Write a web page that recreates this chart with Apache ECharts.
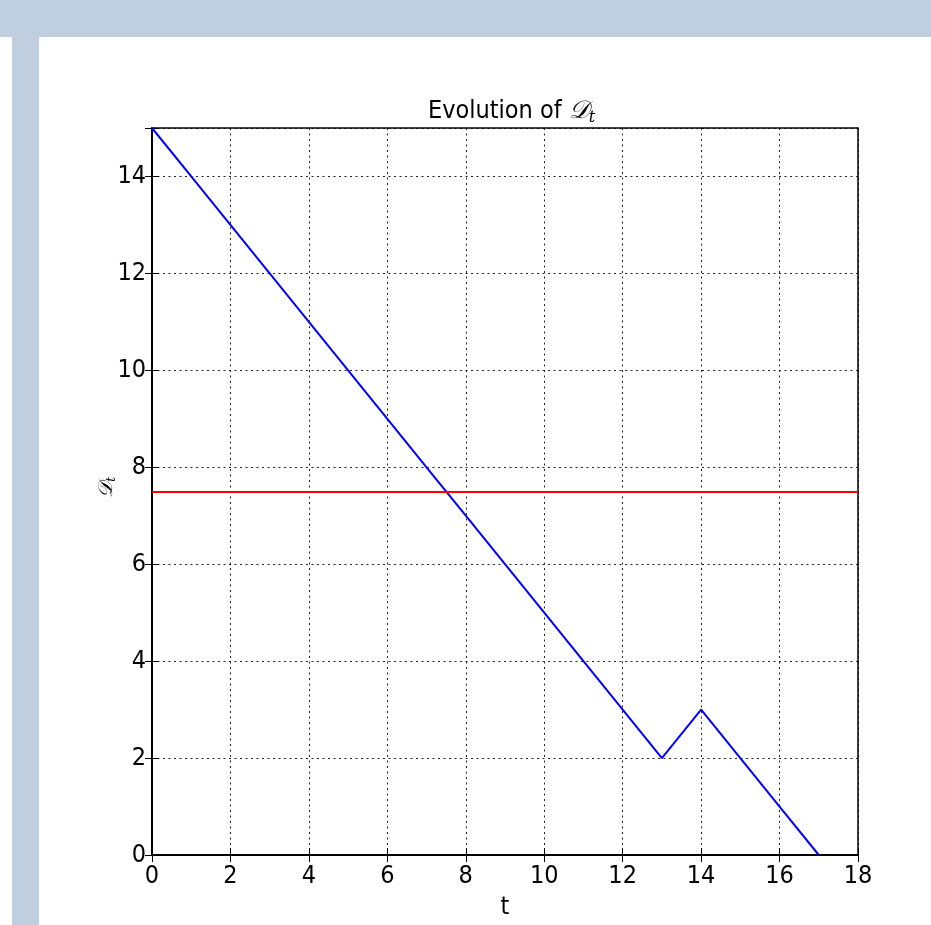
<!DOCTYPE html>
<html>
<head>
<meta charset="utf-8">
<script src="https://cdn.jsdelivr.net/npm/echarts@6/dist/echarts.min.js"></script>
<style>html,body{margin:0;padding:0;background:#fff;}#c{width:931px;height:925px;}</style>
</head>
<body>
<div id="c"></div>
<script>
const tValues = [0,1,2,3,4,5,6,7,8,9,10,11,12,13,14,15,16,17];
const dValues = [15,14,13,12,11,10,9,8,7,6,5,4,3,2,3,2,1,0];
const thresholdValue = 7.5;
const xTicks = [0,2,4,6,8,10,12,14,16,18];
const yTicks = [0,2,4,6,8,10,12,14];

const FONT = '"Liberation Sans Narrow", "DejaVu Sans Condensed", "DejaVu Sans", sans-serif';
const chart = echarts.init(document.getElementById('c'), null, {renderer:'canvas'});
const lineData = tValues.map((t,i)=>[t, dValues[i]]);
const tickLen = 7;
const gridLine = {show:true, lineStyle:{color:'#000', width:1, type:[2,3.5], opacity:0.85}};

chart.setOption({
  animation:false,
  backgroundColor:'#fff',
  graphic:[
    {type:'rect', shape:{x:0,y:0,width:931,height:37}, style:{fill:'#BFCFE0'}, z:-10},
    {type:'rect', shape:{x:12,y:37,width:27,height:888}, style:{fill:'#BFCFE0'}, z:-10},
    {type:'text', left:97, top:477, rotation:Math.PI/2,
     style:{text:'{d|𝒟}{s|t}', rich:{d:{fontFamily:'DejaVu Serif', fontStyle:'italic', fontSize:20, fill:'#000'}, s:{fontFamily:'DejaVu Serif', fontStyle:'italic', fontSize:12, fill:'#000', padding:[9,0,0,0]}}}}
  ],
  title:{
    text:'Evolution of {d|𝒟}{s|t}',
    left:423, top:91,
    textStyle:{fontFamily:FONT, fontSize:25, fontWeight:'normal', color:'#000',
      rich:{d:{fontFamily:'DejaVu Serif', fontStyle:'italic', fontSize:25, color:'#000'},
            s:{fontFamily:'DejaVu Serif', fontStyle:'italic', fontSize:16, color:'#000', padding:[14,0,0,0]}}}
  },
  grid:{left:152, right:73, top:128, bottom:69, show:true, borderColor:'#000', borderWidth:1.5, backgroundColor:'transparent'},
  xAxis:[{
    type:'value', min:xTicks[0], max:xTicks[xTicks.length-1], interval:2,
    name:'t', nameLocation:'middle', nameGap:40,
    nameTextStyle:{fontFamily:FONT, fontSize:25, color:'#000'},
    axisLine:{show:true, onZero:false, lineStyle:{color:'#000', width:1.5}},
    axisTick:{show:true, inside:true, length:tickLen, lineStyle:{color:'#000'}},
    axisLabel:{fontFamily:FONT, fontSize:25, color:'#000', margin:9},
    splitLine:gridLine
  },{
    type:'value', position:'top', min:xTicks[0], max:xTicks[xTicks.length-1], interval:2,
    axisLine:{show:true, lineStyle:{color:'#000', width:1.5}},
    axisTick:{show:true, inside:true, length:tickLen, lineStyle:{color:'#000'}},
    axisLabel:{show:false}, splitLine:{show:false}
  }],
  yAxis:[{
    type:'value', min:0, max:15, interval:2,
    axisLine:{show:true, onZero:false, lineStyle:{color:'#000', width:1.5}},
    axisTick:{show:true, inside:true, length:tickLen, lineStyle:{color:'#000'}},
    axisLabel:{fontFamily:FONT, fontSize:25, color:'#000', margin:6,
      formatter:v=> yTicks.indexOf(v)>=0 ? String(v) : ''},
    splitLine:gridLine
  },{
    type:'value', position:'right', min:0, max:15, interval:2,
    axisLine:{show:true, lineStyle:{color:'#000', width:1.5}},
    axisTick:{show:true, inside:true, length:tickLen, lineStyle:{color:'#000'}},
    axisLabel:{show:false}, splitLine:{show:false}
  }],
  series:[{
    type:'line', data:lineData, xAxisIndex:0, yAxisIndex:0,
    showSymbol:false, symbol:'none', lineStyle:{color:'#0000FF', width:2}, z:3,
    markLine:{silent:true, symbol:'none', label:{show:false},
      lineStyle:{color:'#FF0000', width:2, type:'solid'},
      data:[{yAxis:thresholdValue}]}
  }]
});
</script>
</body>
</html>
